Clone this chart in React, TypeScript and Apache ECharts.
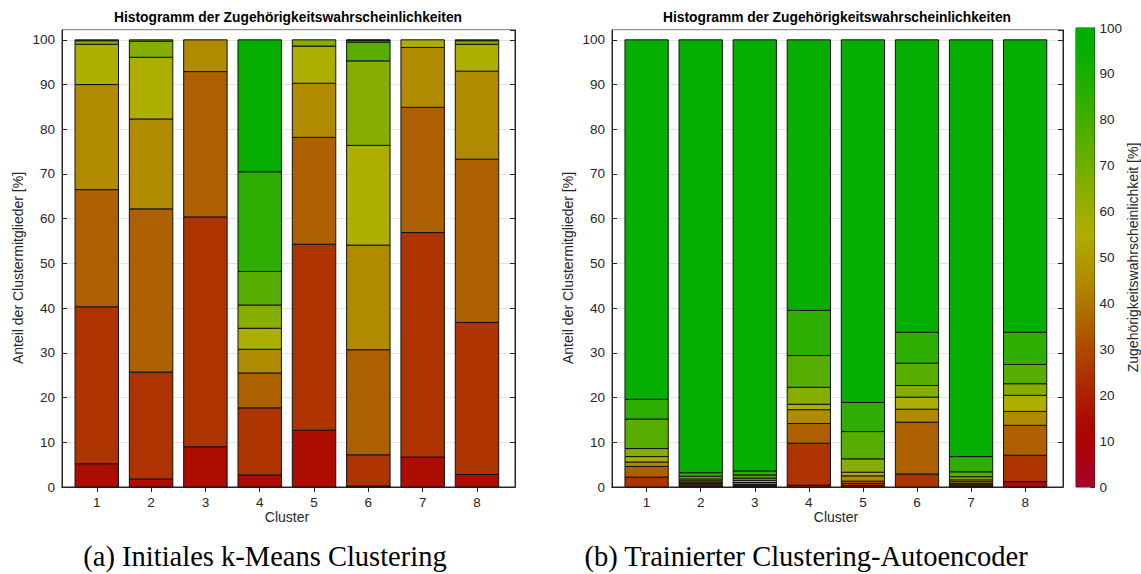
import React, { useEffect, useRef } from "react";
import * as echarts from "echarts";

// Cluster numbers on the x axis
const clusters = [1, 2, 3, 4, 5, 6, 7, 8];

// Colour of each membership-probability bin (10–20 % … 90–100 %)
const binColors = [
  "#ad0c00",
  "#ad3400",
  "#ad6000",
  "#b08a00",
  "#aeae00",
  "#85ae00",
  "#58ae00",
  "#2eae00",
  "#05ae00",
];

// Initial k-Means clustering: share of cluster members [%] per probability bin
const kmeans10to20 = [5.2, 1.8, 9.0, 2.7, 12.7, 0.2, 6.7, 2.8];
const kmeans20to30 = [35.1, 23.9, 51.4, 15.0, 41.6, 7.0, 50.2, 34.0];
const kmeans30to40 = [26.2, 36.5, 32.5, 7.8, 23.9, 23.5, 28.0, 36.5];
const kmeans40to50 = [23.5, 20.1, 7.1, 5.3, 12.1, 23.4, 13.4, 19.7];
const kmeans50to60 = [9.0, 13.8, 0, 4.7, 8.3, 22.3, 1.7, 6.0];
const kmeans60to70 = [0.8, 3.6, 0, 5.2, 1.4, 18.9, 0, 0.8];
const kmeans70to80 = [0.2, 0.3, 0, 7.5, 0, 4.2, 0, 0.2];
const kmeans80to90 = [0, 0, 0, 22.3, 0, 0.4, 0, 0];
const kmeans90to100 = [0, 0, 0, 29.5, 0, 0.1, 0, 0];

// Trained clustering autoencoder: share of cluster members [%] per probability bin
const ae10to20 = [0, 0.2, 0.1, 0.4, 0.3, 0, 0.2, 1.2];
const ae20to30 = [2.2, 0.3, 0.2, 9.4, 0.5, 2.9, 0.3, 5.9];
const ae30to40 = [2.4, 0.3, 0.3, 4.4, 0.5, 11.6, 0.3, 6.7];
const ae40to50 = [1.0, 0.3, 0.4, 3.1, 1.2, 2.9, 0.4, 3.1];
const ae50to60 = [1.2, 0.3, 0.5, 1.2, 0.8, 2.7, 0.4, 3.6];
const ae60to70 = [1.8, 0.4, 0.5, 3.8, 3.0, 2.6, 0.7, 2.6];
const ae70to80 = [6.6, 0.6, 0.7, 7.1, 6.1, 5.0, 1.1, 4.3];
const ae80to90 = [4.4, 0.8, 0.9, 10.1, 6.5, 6.9, 3.4, 7.2];
const ae90to100 = [80.4, 96.8, 96.4, 60.5, 81.1, 65.4, 93.2, 65.4];

const kmeansBins = [
  kmeans10to20, kmeans20to30, kmeans30to40, kmeans40to50, kmeans50to60,
  kmeans60to70, kmeans70to80, kmeans80to90, kmeans90to100,
];
const aeBins = [
  ae10to20, ae20to30, ae30to40, ae40to50, ae50to60,
  ae60to70, ae70to80, ae80to90, ae90to100,
];

// Colour bar ticks
const colorbarTicks = [0, 10, 20, 30, 40, 50, 60, 70, 80, 90, 100];

const TEXT = "#262626";
const FONT = "Liberation Sans";
const TICK_SIZE = 13.5;
const NAME_SIZE = 14;

// [cluster, start, end] of every stacked segment, bin by bin
function stackSegments(bins: number[][]) {
  return bins.map((bin, b) =>
    clusters.map((c, i) => {
      let start = 0;
      for (let k = 0; k < b; k++) start += bins[k][i];
      return [c, start, start + bin[i]];
    })
  );
}

const renderSegment = (color: string) => (_params: any, api: any) => {
  const x = api.value(0);
  const y0 = api.value(1);
  const y1 = api.value(2);
  if (!(y1 - y0 > 0)) return null;
  const a = api.coord([x - 0.4, y0]);
  const b = api.coord([x + 0.4, y1]);
  return {
    type: "rect",
    shape: { x: a[0], y: b[1], width: b[0] - a[0], height: a[1] - b[1] },
    style: { fill: color, stroke: "#111111", lineWidth: 1 },
  };
};

function histogramAxes(gridIndex: number) {
  const xAxes = [
    {
      type: "value",
      gridIndex,
      position: "bottom",
      min: 0.36,
      max: 8.7,
      splitLine: { show: false },
      axisLine: { show: true, lineStyle: { color: TEXT, width: 1 } },
      axisTick: { show: true, inside: true, length: 5, customValues: clusters, lineStyle: { color: TEXT } },
      axisLabel: { show: true, customValues: clusters, color: TEXT, fontFamily: FONT, fontSize: TICK_SIZE, margin: 8 },
    },
    {
      type: "value",
      gridIndex,
      position: "top",
      min: 0.36,
      max: 8.7,
      splitLine: { show: false },
      axisLine: { show: true, lineStyle: { color: TEXT, width: 1 } },
      axisTick: { show: true, inside: true, length: 5, customValues: clusters, lineStyle: { color: TEXT } },
      axisLabel: { show: false },
    },
  ];
  const yAxes = [
    {
      type: "value",
      gridIndex,
      position: "left",
      min: 0,
      max: 102.2,
      interval: 10,
      splitLine: { show: true, lineStyle: { color: "#e3e3e3", width: 1 } },
      axisLine: { show: true, lineStyle: { color: TEXT, width: 1 } },
      axisTick: { show: true, inside: true, length: 5, lineStyle: { color: TEXT } },
      axisLabel: { show: true, showMaxLabel: false, color: TEXT, fontFamily: FONT, fontSize: TICK_SIZE, margin: 7 },
    },
    {
      type: "value",
      gridIndex,
      position: "right",
      min: 0,
      max: 102.2,
      interval: 10,
      splitLine: { show: false },
      axisLine: { show: true, lineStyle: { color: TEXT, width: 1 } },
      axisTick: { show: true, inside: true, length: 5, lineStyle: { color: TEXT } },
      axisLabel: { show: false },
    },
  ];
  return { xAxes, yAxes };
}

export default function App() {
  const ref = useRef<HTMLDivElement>(null);

  useEffect(() => {
    if (!ref.current) return;
    const chart = echarts.init(ref.current, null, { renderer: "svg" });

    const left = histogramAxes(0);
    const right = histogramAxes(1);

    const kmeansSegments = stackSegments(kmeansBins);
    const aeSegments = stackSegments(aeBins);

    const series: any[] = [];
    kmeansSegments.forEach((data, b) => {
      series.push({
        type: "custom",
        name: `k-Means ${b}`,
        xAxisIndex: 0,
        yAxisIndex: 0,
        encode: { x: 0, y: [1, 2] },
        renderItem: renderSegment(binColors[b]),
        data,
        z: 3,
      });
    });
    aeSegments.forEach((data, b) => {
      series.push({
        type: "custom",
        name: `Autoencoder ${b}`,
        xAxisIndex: 2,
        yAxisIndex: 2,
        encode: { x: 0, y: [1, 2] },
        renderItem: renderSegment(binColors[b]),
        data,
        z: 3,
      });
    });

    // colour bar
    series.push({
      type: "bar",
      xAxisIndex: 4,
      yAxisIndex: 4,
      data: [100],
      barWidth: "100%",
      silent: true,
      itemStyle: {
        color: new echarts.graphic.LinearGradient(0, 1, 0, 0, [
          { offset: 0, color: "#a8002c" },
          { offset: 0.1, color: "#ad0300" },
          { offset: 0.15, color: "#ad0c00" },
          { offset: 0.25, color: "#ad3400" },
          { offset: 0.35, color: "#ad6000" },
          { offset: 0.45, color: "#b08a00" },
          { offset: 0.55, color: "#aeae00" },
          { offset: 0.65, color: "#85ae00" },
          { offset: 0.75, color: "#58ae00" },
          { offset: 0.85, color: "#2eae00" },
          { offset: 0.95, color: "#05ae00" },
          { offset: 1, color: "#00ae00" },
        ]),
      },
    });

    const titleStyle = { font: `bold 13.8px "${FONT}"`, fill: "#000", textAlign: "center", textVerticalAlign: "middle" };
    const nameStyle = { font: `${NAME_SIZE}px "${FONT}"`, fill: TEXT, textAlign: "center", textVerticalAlign: "middle" };
    const captionStyle = { font: `28.5px "Liberation Serif"`, fill: "#000", textAlign: "center", textVerticalAlign: "middle" };

    const option: any = {
      animation: false,
      backgroundColor: "#ffffff",
      grid: [
        { left: 62, top: 30, width: 453, height: 457, show: true, borderColor: TEXT, borderWidth: 1, backgroundColor: "transparent" },
        { left: 612, top: 30, width: 451, height: 457, show: true, borderColor: TEXT, borderWidth: 1, backgroundColor: "transparent" },
        { left: 1076, top: 28, width: 21, height: 459, show: true, borderColor: TEXT, borderWidth: 1, backgroundColor: "transparent" },
      ],
      xAxis: [
        ...left.xAxes,
        ...right.xAxes,
        { type: "category", gridIndex: 2, data: [""], show: false },
      ],
      yAxis: [
        ...left.yAxes,
        ...right.yAxes,
        {
          type: "value",
          gridIndex: 2,
          position: "right",
          min: 0,
          max: 100,
          interval: 10,
          splitLine: { show: false },
          axisLine: { show: true, lineStyle: { color: TEXT, width: 1 } },
          axisTick: { show: true, inside: true, length: 4, lineStyle: { color: TEXT } },
          axisLabel: { show: true, color: TEXT, fontFamily: FONT, fontSize: TICK_SIZE, margin: 5, customValues: colorbarTicks },
          name: "Zugehörigkeitswahrscheinlichkeit [%]",
          nameLocation: "middle",
          nameRotate: 90,
          nameGap: 30,
          nameTextStyle: { color: TEXT, fontFamily: FONT, fontSize: NAME_SIZE },
        },
      ],
      graphic: [
        { type: "text", x: 288, y: 17, style: { text: "Histogramm der Zugehörigkeitswahrscheinlichkeiten", ...titleStyle } },
        { type: "text", x: 837, y: 17, style: { text: "Histogramm der Zugehörigkeitswahrscheinlichkeiten", ...titleStyle } },
        { type: "text", x: 18, y: 268, rotation: Math.PI / 2, style: { text: "Anteil der Clustermitglieder [%]", ...nameStyle } },
        { type: "text", x: 568, y: 268, rotation: Math.PI / 2, style: { text: "Anteil der Clustermitglieder [%]", ...nameStyle } },
        { type: "text", x: 287, y: 517, style: { text: "Cluster", ...nameStyle } },
        { type: "text", x: 836, y: 517, style: { text: "Cluster", ...nameStyle } },
        { type: "text", x: 265, y: 556, style: { text: "(a) Initiales k-Means Clustering", ...captionStyle } },
        { type: "text", x: 806, y: 556, style: { text: "(b) Trainierter Clustering-Autoencoder", ...captionStyle } },
      ],
      series,
    };

    chart.setOption(option);
    return () => chart.dispose();
  }, []);

  return (
    <div
      ref={ref}
      style={{ position: "absolute", left: 0, top: 0, width: 1141, height: 574, background: "#fff" }}
    />
  );
}
